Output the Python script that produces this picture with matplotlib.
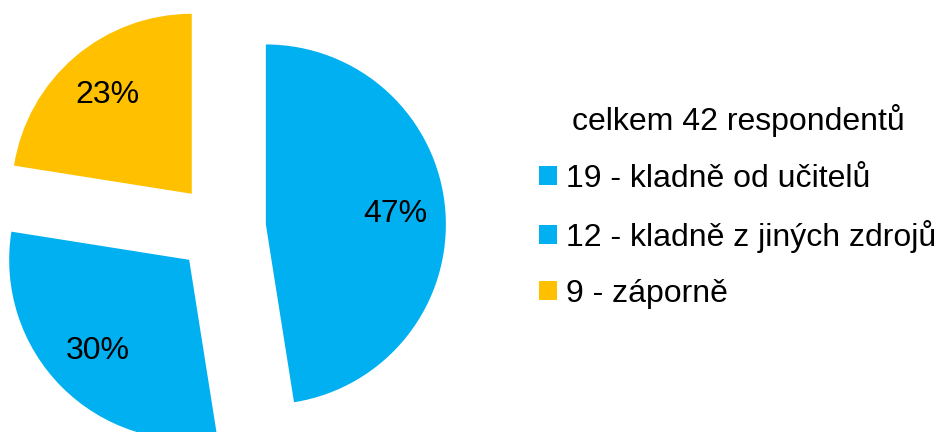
"""Výsečový graf: hodnocení od respondentů (celkem 42)."""
import matplotlib
matplotlib.use("Agg")
import matplotlib.pyplot as plt

plt.rcParams["font.family"] = ["Liberation Sans", "DejaVu Sans"]

# data
counts = [19, 12, 9]
descriptions = ["kladně od učitelů", "kladně z jiných zdrojů", "záporně"]
pct_labels = ["47%", "30%", "23%"]
colors = ["#00B0F0", "#00B0F0", "#FFC000"]
legend_title = "celkem 42 respondentů"

W, H = 938, 432
fig = plt.figure(figsize=(W / 100, H / 100), dpi=100)
ax = fig.add_axes([0, 0, 1, 1])

# pie drawn in pixel-like data units so it can be clipped like the original
radius = 180
center = (221, H - 228)
lab_iter = iter(pct_labels)
wedges, _, autotexts = ax.pie(
    counts, colors=colors, radius=radius, center=center,
    explode=[45] * len(counts), startangle=90, counterclock=False,
    autopct=lambda p: next(lab_iter), pctdistance=0.72,
    textprops=dict(fontsize=23, color="black"),
    wedgeprops=dict(linewidth=0),
)
ax.set_xlim(0, W); ax.set_ylim(0, H)
ax.set_aspect("equal")
ax.axis("off")

labels = [f"{c} - {d}" for c, d in zip(counts, descriptions)]
leg = fig.legend(
    wedges, labels, title=legend_title, loc="upper left",
    bbox_to_anchor=(517 / W, 1 - 82 / H), frameon=False,
    fontsize=23, title_fontsize=23,
    handlelength=0.54, handleheight=0.54, handletextpad=0.3,
    labelspacing=0.82, borderpad=0.2,
)

fig.savefig("out.png", dpi=100)
